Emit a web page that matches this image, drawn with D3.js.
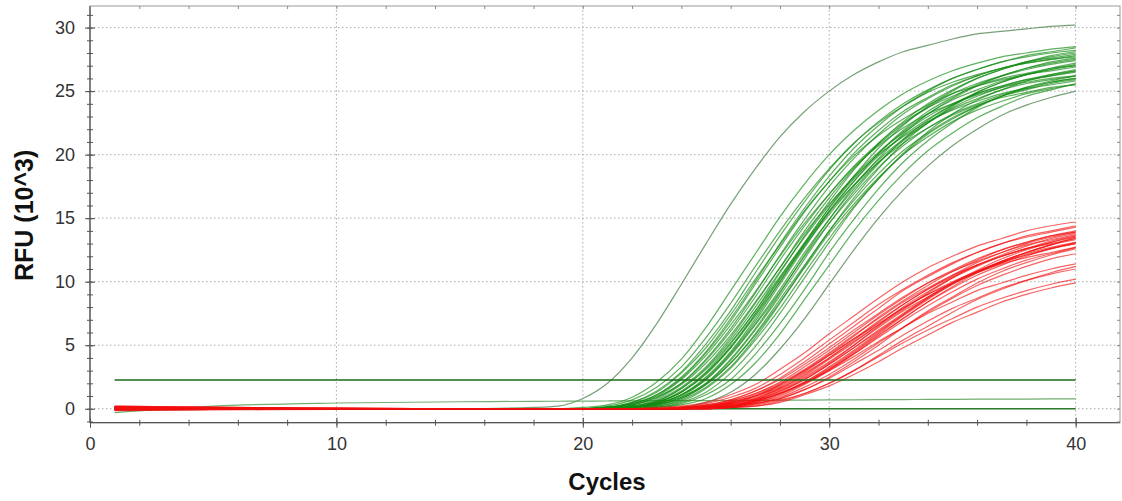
<!DOCTYPE html>
<html>
<head>
<meta charset="utf-8">
<script src="https://cdn.jsdelivr.net/npm/d3@7"></script>
<style>
  body { margin: 0; background: #fff; }
  svg text { font-family: Arial, "Liberation Sans", sans-serif; }
</style>
</head>
<body>
<div id="chart"></div>
<script>

// amplification curves, sampled at these cycles (values in RFU x 10^3)
const cycles = [1, 5, 10, 15, 18, 19, 20, 21, 22, 23, 24, 25, 26, 27, 28, 29, 30, 31, 32, 33, 34, 35, 36, 37, 38, 39, 40];

const greenCurves = [
  [0.05, 0, 0, 0, 0, 0, 0.1, 0.3, 0.9, 2.1, 3.9, 6.4, 9.3, 12.2, 15.1, 17.7, 20.0, 21.9, 23.5, 24.8, 25.8, 26.6, 27.2, 27.7, 28.0, 28.3, 28.5],
  [0, 0, 0, 0, 0, 0, 0, 0.2, 0.7, 1.7, 3.3, 5.6, 8.3, 11.2, 14.0, 16.6, 18.9, 20.9, 22.5, 23.8, 24.9, 25.7, 26.3, 26.8, 27.2, 27.5, 27.7],
  [-0.05, 0, 0, 0, 0, 0, 0, 0.1, 0.5, 1.4, 2.9, 5.1, 7.7, 10.7, 13.6, 16.3, 18.8, 20.9, 22.6, 24.0, 25.1, 26.0, 26.7, 27.3, 27.7, 28.0, 28.2],
  [0, 0, 0, 0, 0, 0, 0, 0.1, 0.5, 1.3, 2.8, 4.8, 7.4, 10.2, 12.9, 15.6, 17.9, 19.9, 21.5, 22.8, 23.9, 24.8, 25.4, 25.9, 26.3, 26.6, 26.9],
  [0.1, 0.05, 0, 0, 0, 0, 0, 0.1, 0.4, 1.1, 2.4, 4.4, 6.9, 9.8, 12.7, 15.5, 17.9, 20.1, 21.9, 23.4, 24.5, 25.5, 26.2, 26.8, 27.2, 27.5, 27.8],
  [0, 0, 0, 0, 0, 0, 0, 0.1, 0.4, 1.0, 2.3, 4.2, 6.6, 9.2, 12.0, 14.6, 16.9, 19.0, 20.7, 22.1, 23.2, 24.0, 24.7, 25.3, 25.7, 26.0, 26.2],
  [-0.1, -0.05, 0, 0, 0, 0, 0, 0.1, 0.3, 0.9, 2.0, 3.9, 6.3, 9.1, 12.1, 14.9, 17.5, 19.7, 21.6, 23.2, 24.4, 25.4, 26.2, 26.8, 27.3, 27.6, 27.9],
  [0, 0, 0, 0, 0, 0, 0, 0.1, 0.3, 0.9, 2.0, 3.8, 6.1, 8.8, 11.7, 14.4, 16.9, 19.1, 20.9, 22.5, 23.7, 24.6, 25.4, 26.0, 26.4, 26.8, 27.0],
  [0.05, 0, 0, 0, 0, 0, 0, 0.1, 0.3, 0.8, 1.9, 3.6, 5.8, 8.4, 11.1, 13.8, 16.1, 18.2, 20.0, 21.4, 22.6, 23.5, 24.2, 24.8, 25.2, 25.5, 25.8],
  [0, 0, 0, 0, 0, 0, 0, 0, 0.2, 0.7, 1.7, 3.3, 5.6, 8.3, 11.1, 14.0, 16.6, 18.9, 20.8, 22.4, 23.7, 24.8, 25.6, 26.2, 26.7, 27.1, 27.4],
  [0, 0, 0, 0, 0, 0, 0, 0, 0.2, 0.6, 1.6, 3.2, 5.4, 8.0, 10.8, 13.5, 16.0, 18.3, 20.2, 21.7, 23.0, 24.0, 24.8, 25.4, 25.9, 26.2, 26.5],
  [0.1, 0.05, 0, 0, 0, 0, 0, 0, 0.1, 0.5, 1.4, 2.9, 5.1, 7.7, 10.7, 13.6, 16.3, 18.8, 20.9, 22.6, 24.0, 25.1, 26.0, 26.7, 27.3, 27.7, 28.0],
  [0, 0, 0, 0, 0, 0, 0, 0, 0.1, 0.5, 1.3, 2.8, 4.9, 7.5, 10.3, 13.1, 15.8, 18.1, 20.1, 21.8, 23.2, 24.3, 25.1, 25.8, 26.3, 26.7, 27.0],
  [-0.05, 0, 0, 0, 0, 0, 0, 0, 0.1, 0.5, 1.3, 2.7, 4.8, 7.3, 10.0, 12.8, 15.3, 17.6, 19.6, 21.2, 22.5, 23.6, 24.4, 25.1, 25.6, 25.9, 26.2],
  [0, 0, 0, 0, 0, 0, 0, 0, 0.1, 0.4, 1.1, 2.4, 4.4, 6.9, 9.8, 12.7, 15.5, 17.9, 20.1, 21.9, 23.4, 24.5, 25.5, 26.2, 26.8, 27.2, 27.5],
  [0.05, 0, 0, 0, 0, 0, 0, 0, 0.1, 0.4, 1.1, 2.3, 4.3, 6.7, 9.4, 12.3, 14.9, 17.3, 19.4, 21.1, 22.5, 23.7, 24.6, 25.3, 25.8, 26.2, 26.6],
  [0, 0, 0, 0, 0, 0, 0, 0, 0.1, 0.3, 0.9, 2.0, 3.8, 6.2, 8.9, 11.8, 14.6, 17.1, 19.3, 21.2, 22.7, 23.9, 24.9, 25.7, 26.3, 26.7, 27.1],
  [0, 0, 0, 0, 0, 0, 0, 0, 0.1, 0.3, 0.8, 1.9, 3.6, 5.9, 8.6, 11.3, 14.0, 16.4, 18.5, 20.3, 21.7, 22.9, 23.8, 24.6, 25.1, 25.6, 25.9],
  [0.1, 0, 0, 0, 0, 0, 0, 0, 0, 0.2, 0.7, 1.7, 3.3, 5.6, 8.3, 11.2, 14.0, 16.6, 18.9, 20.9, 22.5, 23.8, 24.9, 25.7, 26.3, 26.8, 27.2],
  [0, 0, 0, 0, 0, 0, 0, 0, 0, 0.2, 0.6, 1.6, 3.2, 5.4, 7.9, 10.7, 13.4, 15.9, 18.1, 20.0, 21.6, 22.8, 23.8, 24.6, 25.2, 25.7, 26.0],
  [-0.1, -0.05, 0, 0, 0, 0, 0, 0, 0, 0.1, 0.5, 1.3, 2.8, 4.9, 7.5, 10.3, 13.1, 15.8, 18.1, 20.1, 21.8, 23.2, 24.3, 25.1, 25.8, 26.3, 26.7],
  [0, 0, 0, 0, 0, 0, 0, 0, 0, 0.1, 0.4, 1.1, 2.3, 4.3, 6.7, 9.4, 12.3, 14.9, 17.3, 19.4, 21.1, 22.5, 23.7, 24.6, 25.3, 25.8, 26.2],
  [0, 0, 0, 0, 0, 0, 0, 0, 0, 0.1, 0.3, 0.8, 1.9, 3.6, 5.9, 8.6, 11.3, 14.0, 16.4, 18.5, 20.3, 21.7, 22.9, 23.8, 24.6, 25.1, 25.6],
  [0.05, 0, 0, 0, 0, 0, 0, 0, 0.1, 0.4, 1.1, 2.5, 4.5, 7.1, 10.0, 13.0, 15.8, 18.3, 20.5, 22.3, 23.8, 25.0, 26.0, 26.7, 27.3, 27.8, 28.1],
  [0, 0, 0, 0, 0, 0, 0, 0, 0.2, 0.6, 1.6, 3.1, 5.2, 7.7, 10.4, 13.0, 15.5, 17.6, 19.4, 20.9, 22.1, 23.1, 23.9, 24.5, 24.9, 25.3, 25.5],
  [0, 0, 0, 0, 0, 0, 0, 0, 0.1, 0.3, 0.9, 2.0, 3.9, 6.3, 9.1, 12.1, 14.9, 17.5, 19.7, 21.6, 23.2, 24.4, 25.4, 26.2, 26.8, 27.3, 27.6],
  [-0.05, 0, 0, 0, 0, 0, 0, 0, 0.1, 0.5, 1.3, 2.8, 4.8, 7.4, 10.2, 12.9, 15.6, 17.9, 19.9, 21.5, 22.8, 23.9, 24.8, 25.4, 25.9, 26.3, 26.6],
  [0, 0, 0, 0, 0, 0, 0, 0, 0.1, 0.3, 0.8, 1.9, 3.6, 5.8, 8.4, 11.1, 13.8, 16.1, 18.2, 20.0, 21.4, 22.6, 23.5, 24.2, 24.8, 25.2, 25.5],
  [0, 0, 0, 0, 0, 0, 0, 0, 0.1, 0.4, 1.0, 2.3, 4.2, 6.6, 9.2, 12.0, 14.6, 16.9, 19.0, 20.7, 22.1, 23.2, 24.0, 24.7, 25.3, 25.7, 26.0],
  [0.05, 0, 0, 0, 0, 0, 0, 0.1, 0.4, 1.1, 2.5, 4.5, 7.1, 10.0, 13.0, 15.8, 18.3, 20.5, 22.3, 23.8, 25.0, 26.0, 26.7, 27.3, 27.8, 28.1, 28.4]
];

// single early and single late green well
const earlyGreen = [0, 0, 0, 0, 0.1, 0.2, 0.8, 2.0, 4.0, 6.7, 9.8, 13.0, 16.1, 18.9, 21.4, 23.4, 25.0, 26.3, 27.3, 28.1, 28.6, 29.1, 29.5, 29.7, 29.9, 30.1, 30.2];
const lateGreen = [0, 0, 0, 0, 0, 0, 0, 0, 0, 0, 0.1, 0.5, 1.3, 2.7, 4.7, 7.1, 9.8, 12.5, 15.0, 17.2, 19.1, 20.7, 22.0, 23.1, 23.9, 24.5, 25.0];
// non amplifying well, slowly drifting up
const flatGreen = [-0.3, 0.2, 0.45, 0.55, 0.58, 0.59, 0.6, 0.61, 0.62, 0.63, 0.63, 0.64, 0.65, 0.66, 0.67, 0.68, 0.69, 0.7, 0.71, 0.72, 0.73, 0.74, 0.75, 0.75, 0.76, 0.77, 0.78];

const redCurves = [
  [0.15, 0.1, 0.05, 0, 0, 0, 0, 0, 0, 0.1, 0.2, 0.5, 1.1, 1.9, 3.1, 4.4, 5.9, 7.3, 8.7, 10.0, 11.1, 12.0, 12.8, 13.4, 14.0, 14.4, 14.7],
  [0.1, 0.05, 0, 0, 0, 0, 0, 0, 0, 0, 0.1, 0.4, 0.9, 1.6, 2.7, 4.0, 5.4, 6.8, 8.2, 9.4, 10.5, 11.5, 12.3, 13.0, 13.5, 13.9, 14.3],
  [-0.1, -0.05, 0, 0, 0, 0, 0, 0, 0, 0, 0.1, 0.3, 0.7, 1.4, 2.4, 3.7, 5.1, 6.5, 7.9, 9.3, 10.4, 11.4, 12.3, 13.0, 13.6, 14.0, 14.4],
  [0.05, 0, 0, 0, 0, 0, 0, 0, 0, 0, 0.1, 0.3, 0.7, 1.4, 2.3, 3.5, 4.8, 6.2, 7.5, 8.8, 9.9, 10.8, 11.6, 12.3, 12.9, 13.3, 13.7],
  [0.2, 0.1, 0.05, 0, 0, 0, 0, 0, 0, 0, 0.1, 0.2, 0.6, 1.2, 2.1, 3.3, 4.6, 6.0, 7.4, 8.7, 9.9, 10.9, 11.8, 12.5, 13.1, 13.6, 13.9],
  [-0.05, 0, 0, 0, 0, 0, 0, 0, 0, 0, 0.1, 0.2, 0.6, 1.2, 2.0, 3.1, 4.4, 5.8, 7.1, 8.4, 9.5, 10.5, 11.3, 12.0, 12.6, 13.0, 13.4],
  [0.1, 0.1, 0.05, 0, 0, 0, 0, 0, 0, 0, 0, 0.2, 0.5, 1.0, 1.9, 3.0, 4.3, 5.7, 7.2, 8.5, 9.7, 10.8, 11.7, 12.5, 13.1, 13.6, 14.0],
  [0, 0, 0, 0, 0, 0, 0, 0, 0, 0, 0, 0.2, 0.5, 1.0, 1.8, 2.9, 4.2, 5.5, 6.9, 8.2, 9.4, 10.4, 11.3, 12.0, 12.6, 13.1, 13.5],
  [-0.15, -0.1, -0.05, 0, 0, 0, 0, 0, 0, 0, 0, 0.2, 0.4, 1.0, 1.7, 2.8, 4.0, 5.3, 6.6, 7.9, 9.0, 10.0, 10.8, 11.5, 12.1, 12.6, 13.0],
  [0.15, 0.05, 0, 0, 0, 0, 0, 0, 0, 0, 0, 0.1, 0.4, 0.8, 1.6, 2.6, 3.9, 5.2, 6.6, 8.0, 9.2, 10.3, 11.2, 12.0, 12.6, 13.2, 13.6],
  [0, 0, 0, 0, 0, 0, 0, 0, 0, 0, 0, 0.1, 0.4, 0.8, 1.5, 2.5, 3.7, 5.0, 6.4, 7.7, 8.8, 9.9, 10.8, 11.5, 12.1, 12.6, 13.1],
  [0.1, 0.05, 0, 0, 0, 0, 0, 0, 0, 0, 0, 0.1, 0.3, 0.7, 1.4, 2.4, 3.6, 5.0, 6.5, 7.8, 9.1, 10.3, 11.3, 12.1, 12.8, 13.4, 13.8],
  [-0.1, 0, 0, 0, 0, 0, 0, 0, 0, 0, 0, 0.1, 0.3, 0.7, 1.3, 2.3, 3.5, 4.8, 6.1, 7.4, 8.7, 9.8, 10.7, 11.5, 12.2, 12.7, 13.1],
  [0.05, 0.05, 0, 0, 0, 0, 0, 0, 0, 0, 0, 0.1, 0.2, 0.6, 1.2, 2.1, 3.2, 4.5, 5.9, 7.3, 8.6, 9.8, 10.8, 11.6, 12.3, 12.9, 13.4],
  [0.15, 0.1, 0.05, 0, 0, 0, 0, 0, 0, 0, 0, 0.1, 0.2, 0.5, 1.1, 2.0, 3.1, 4.3, 5.6, 6.9, 8.1, 9.2, 10.2, 11.0, 11.7, 12.2, 12.7],
  [0, 0, 0, 0, 0, 0, 0, 0, 0, 0, 0, 0, 0.2, 0.5, 1.0, 1.9, 3.0, 4.3, 5.7, 7.1, 8.4, 9.6, 10.7, 11.6, 12.3, 12.9, 13.5],
  [-0.05, -0.05, 0, 0, 0, 0, 0, 0, 0, 0, 0, 0, 0.2, 0.4, 0.9, 1.7, 2.7, 3.9, 5.2, 6.4, 7.6, 8.7, 9.7, 10.5, 11.2, 11.8, 12.2],
  [0.1, 0, 0, 0, 0, 0, 0, 0, 0, 0, 0, 0, 0.1, 0.4, 0.8, 1.5, 2.5, 3.7, 5.0, 6.4, 7.7, 8.8, 9.9, 10.8, 11.5, 12.1, 12.6],
  [0.05, 0, 0, 0, 0, 0, 0, 0, 0, 0, 0, 0.1, 0.2, 0.6, 1.2, 2.0, 3.0, 4.1, 5.3, 6.4, 7.5, 8.4, 9.3, 9.9, 10.5, 11.0, 11.4],
  [-0.1, -0.05, 0, 0, 0, 0, 0, 0, 0, 0, 0, 0, 0.1, 0.4, 0.8, 1.5, 2.4, 3.5, 4.6, 5.8, 6.9, 7.9, 8.7, 9.5, 10.1, 10.6, 11.0],
  [0.15, 0.05, 0, 0, 0, 0, 0, 0, 0, 0, 0, 0, 0.1, 0.2, 0.6, 1.2, 2.0, 3.0, 4.2, 5.4, 6.5, 7.6, 8.6, 9.4, 10.1, 10.7, 11.2],
  [0, 0, 0, 0, 0, 0, 0, 0, 0, 0, 0, 0, 0.1, 0.3, 0.7, 1.2, 2.0, 3.0, 4.1, 5.2, 6.2, 7.1, 8.0, 8.7, 9.3, 9.8, 10.2],
  [0.1, 0.05, 0, 0, 0, 0, 0, 0, 0, 0, 0, 0, 0.1, 0.2, 0.5, 1.1, 1.8, 2.7, 3.7, 4.8, 5.8, 6.8, 7.6, 8.4, 9.0, 9.5, 9.9],
  [-0.05, 0, 0, 0, 0, 0, 0, 0, 0, 0, 0.1, 0.2, 0.5, 1.1, 1.9, 3.0, 4.2, 5.5, 6.7, 7.9, 9.0, 9.9, 10.7, 11.4, 11.9, 12.3, 12.7],
  [0.2, 0.1, 0, 0, 0, 0, 0, 0, 0, 0, 0, 0.1, 0.3, 0.7, 1.4, 2.3, 3.5, 4.8, 6.2, 7.5, 8.8, 9.9, 10.8, 11.6, 12.3, 12.9, 13.3],
  [0, 0, 0, 0, 0, 0, 0, 0, 0, 0, 0, 0.1, 0.2, 0.6, 1.2, 2.0, 3.1, 4.4, 5.8, 7.1, 8.4, 9.5, 10.5, 11.3, 12.0, 12.6, 13.0],
  [0.05, 0.05, 0, 0, 0, 0, 0, 0, 0, 0, 0, 0.1, 0.4, 0.9, 1.6, 2.7, 4.0, 5.4, 6.8, 8.2, 9.4, 10.5, 11.5, 12.3, 13.0, 13.5, 13.9],
  [-0.1, -0.05, 0, 0, 0, 0, 0, 0, 0, 0, 0, 0.1, 0.2, 0.6, 1.2, 2.1, 3.3, 4.6, 6.0, 7.4, 8.7, 9.9, 10.9, 11.8, 12.5, 13.1, 13.6]
];

const threshold = 2.26;
const zeroLevel = 0;

const xTicks = [0, 10, 20, 30, 40];
const yTicks = [0, 5, 10, 15, 20, 25, 30];

const width = 1122, height = 501;
const plot = {left: 90, right: 1120, top: 6, bottom: 422.7};

const svg = d3.select("#chart").append("svg")
    .attr("width", width)
    .attr("height", height);

const x = d3.scaleLinear().domain([0, 41.8]).range([plot.left, plot.right]);
const y = d3.scaleLinear().domain([-1.1, 31.7]).range([plot.bottom, plot.top]);

const xMinor = d3.range(0, 42, 2);
const yMinor = d3.range(-1, 32, 1);

// dotted grid
svg.append("g")
    .selectAll("line")
    .data(yTicks)
    .join("line")
    .attr("x1", plot.left).attr("x2", plot.right)
    .attr("y1", d => y(d)).attr("y2", d => y(d))
    .attr("stroke", "#aaa")
    .attr("stroke-dasharray", "1.5,2.5");

svg.append("g")
    .selectAll("line")
    .data(xTicks.filter(d => d > 0))
    .join("line")
    .attr("x1", d => x(d)).attr("x2", d => x(d))
    .attr("y1", plot.top).attr("y2", plot.bottom)
    .attr("stroke", "#aaa")
    .attr("stroke-dasharray", "1.5,2.5");

const line = d3.line()
    .x((d, i) => x(cycles[i]))
    .y(d => y(d))
    .curve(d3.curveMonotoneX);

const firstCycle = cycles[0], lastCycle = cycles[cycles.length - 1];

// flat wells
svg.append("line")
    .attr("x1", x(firstCycle)).attr("x2", x(lastCycle))
    .attr("y1", y(zeroLevel)).attr("y2", y(zeroLevel))
    .attr("stroke", "#2b7b2b")
    .attr("stroke-width", 1.3);

svg.append("path")
    .attr("d", line(flatGreen))
    .attr("fill", "none")
    .attr("stroke", "#4f9a4f")
    .attr("stroke-opacity", 0.8)
    .attr("stroke-width", 1.2);

svg.append("g")
    .selectAll("path")
    .data(greenCurves)
    .join("path")
    .attr("d", line)
    .attr("fill", "none")
    .attr("stroke", "#118a11")
    .attr("stroke-opacity", 0.68)
    .attr("stroke-width", 1.2);

svg.append("g")
    .selectAll("path")
    .data([earlyGreen, lateGreen])
    .join("path")
    .attr("d", line)
    .attr("fill", "none")
    .attr("stroke", "#5e8f5e")
    .attr("stroke-opacity", 0.85)
    .attr("stroke-width", 1.2);

svg.append("g")
    .selectAll("path")
    .data(redCurves)
    .join("path")
    .attr("d", line)
    .attr("fill", "none")
    .attr("stroke", "#f21010")
    .attr("stroke-opacity", 0.65)
    .attr("stroke-width", 1.2);

// threshold
svg.append("line")
    .attr("x1", x(firstCycle)).attr("x2", x(lastCycle))
    .attr("y1", y(threshold)).attr("y2", y(threshold))
    .attr("stroke", "#1a6a1a")
    .attr("stroke-width", 1.6);

// frame
svg.append("rect")
    .attr("x", plot.left).attr("y", plot.top)
    .attr("width", plot.right - plot.left)
    .attr("height", plot.bottom - plot.top)
    .attr("fill", "none")
    .attr("stroke", "#999");

svg.append("line")
    .attr("x1", plot.left).attr("x2", plot.left)
    .attr("y1", plot.top).attr("y2", plot.bottom)
    .attr("stroke", "#555").attr("stroke-width", 1.3);
svg.append("line")
    .attr("x1", plot.left).attr("x2", plot.right)
    .attr("y1", plot.bottom).attr("y2", plot.bottom)
    .attr("stroke", "#555").attr("stroke-width", 1.3);

function tickGroup(axis, tx, ty, color) {
    const g = svg.append("g")
        .attr("transform", `translate(${tx},${ty})`)
        .call(axis);
    g.select(".domain").remove();
    g.selectAll("line").attr("stroke", color);
    return g;
}

const noLabel = () => "";

// left axis
const yLabels = tickGroup(d3.axisLeft(y).tickValues(yTicks).tickSize(5).tickPadding(10), plot.left, 0, "#555");
tickGroup(d3.axisRight(y).tickValues(yTicks).tickSize(5).tickFormat(noLabel), plot.left, 0, "#555");
tickGroup(d3.axisLeft(y).tickValues(yMinor).tickSize(3).tickFormat(noLabel), plot.left, 0, "#555");
tickGroup(d3.axisRight(y).tickValues(yMinor).tickSize(3).tickFormat(noLabel), plot.left, 0, "#555");

// bottom axis
const xLabels = tickGroup(d3.axisBottom(x).tickValues(xTicks).tickSize(5).tickPadding(10), 0, plot.bottom, "#555");
tickGroup(d3.axisTop(x).tickValues(xTicks).tickSize(5).tickFormat(noLabel), 0, plot.bottom, "#555");
tickGroup(d3.axisBottom(x).tickValues(xMinor).tickSize(3).tickFormat(noLabel), 0, plot.bottom, "#555");
tickGroup(d3.axisTop(x).tickValues(xMinor).tickSize(3).tickFormat(noLabel), 0, plot.bottom, "#555");

// top and right small ticks
tickGroup(d3.axisBottom(x).tickValues(xMinor).tickSize(3).tickFormat(noLabel), 0, plot.top, "#888");
tickGroup(d3.axisLeft(y).tickValues(yMinor).tickSize(3).tickFormat(noLabel), plot.right, 0, "#888");

[yLabels, xLabels].forEach(g => {
    g.attr("font-family", null).attr("font-size", null);
    g.selectAll("text")
        .style("font-size", "18px")
        .attr("fill", "#333");
});

svg.append("text")
    .attr("transform", `translate(33,${(plot.top + plot.bottom) / 2 + 1}) rotate(-90)`)
    .attr("text-anchor", "middle")
    .style("font-size", "25px")
    .style("font-weight", "bold")
    .attr("fill", "#111")
    .text("RFU (10^3)");

svg.append("text")
    .attr("x", 607)
    .attr("y", 490)
    .attr("text-anchor", "middle")
    .style("font-size", "24px")
    .style("font-weight", "bold")
    .attr("fill", "#111")
    .text("Cycles");

</script>
</body>
</html>
